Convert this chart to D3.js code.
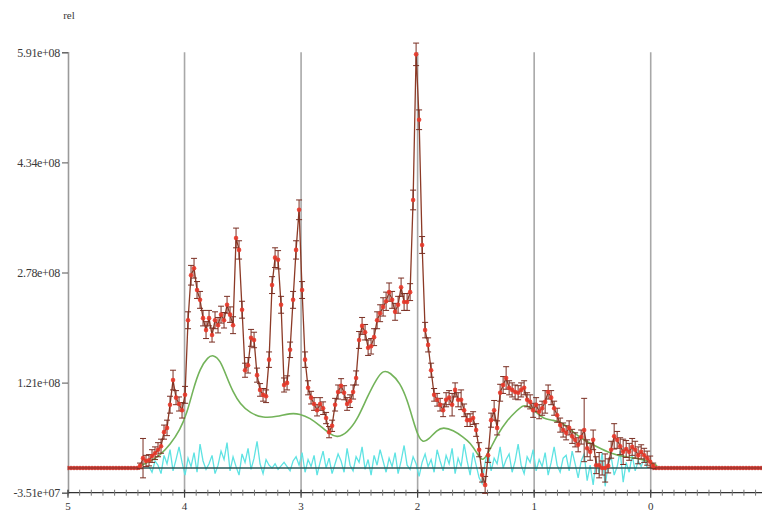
<!DOCTYPE html>
<html>
<head>
<meta charset="utf-8">
<script src="https://cdn.jsdelivr.net/npm/d3@7"></script>
<style>
  html, body { margin: 0; padding: 0; background: #fff; }
  svg { display: block; }
  text { font-family: "Liberation Serif", "DejaVu Serif", serif; }
</style>
</head>
<body>
<svg id="chart" width="762" height="515"></svg>
<script>
// ---------- DATA ----------
const UNIT = 1e6; // values below are in millions
const yTickValues = [-35.1, 121.4, 277.9, 434.4, 590.9];
const yTickLabels = ["-3.51e+07", "1.21e+08", "2.78e+08", "4.34e+08", "5.91e+08"];
const xMajorTicks = [5, 4, 3, 2, 1, 0, -1];
const xTickLabels = ["5", "4", "3", "2", "1", "0", "-1"];
const gridLines = [4, 3, 2, 1, 0];
const yAxisLabel = "rel";

// measured intensities (red), sampled on a regular energy grid
const dataStart = 4.382, dataStep = 0.02575;
const dataValues = [
  3, 14, 10, 11, 17, 21, 26, 31, 51, 57,
  90, 125, 100, 91, 82, 104, 210, 274, 284, 253,
  239, 213, 196, 213, 189, 210, 203, 218, 210, 232,
  218, 203, 327, 310, 225, 139, 146, 185, 182, 132,
  111, 104, 102, 154, 260, 299, 296, 232, 118, 121,
  168, 239, 310, 367, 253, 154, 114, 100, 91, 82,
  91, 85, 71, 51, 60, 90, 108, 117, 107, 91,
  95, 108, 128, 182, 202, 193, 171, 173, 186, 210,
  220, 229, 237, 250, 239, 222, 232, 257, 236, 236,
  250, 381, 588, 495, 317, 196, 175, 139, 104, 97,
  90, 82, 97, 100, 90, 111, 97, 97, 82, 68,
  68, 71, 54, 26, -10, -24, 18, 68, 82, 57,
  107, 118, 128, 114, 111, 108, 107, 111, 114, 97,
  94, 82, 90, 80, 85, 94, 108, 100, 85, 75,
  61, 54, 50, 57, 45, 40, 33, 44, 54, 28,
  23, 40, 4, 4, 0, 0, 3, 26, 45, 40,
  31, 23, 27, 23, 30, 26, 18, 23, 18, 14,
  9, 3
];
const dataErrors = [
  4, 28, 8, 8, 9, 9, 10, 10, 10, 11,
  12, 14, 10, 10, 11, 12, 12, 14, 14, 12,
  12, 11, 12, 11, 10, 12, 11, 12, 11, 12,
  11, 12, 14, 13, 12, 10, 11, 12, 11, 10,
  9, 9, 9, 11, 12, 14, 13, 12, 10, 10,
  11, 12, 13, 14, 12, 11, 10, 9, 9, 8,
  9, 9, 8, 8, 8, 9, 10, 10, 10, 9,
  9, 10, 10, 12, 12, 11, 11, 11, 12, 12,
  12, 13, 13, 13, 12, 12, 12, 13, 12, 12,
  12, 14, 16, 14, 12, 11, 10, 10, 9, 9,
  9, 9, 10, 10, 16, 10, 10, 14, 9, 9,
  9, 9, 9, 10, 10, 12, 10, 10, 14, 10,
  12, 12, 16, 10, 10, 10, 10, 10, 10, 10,
  10, 10, 10, 10, 10, 16, 10, 10, 10, 10,
  10, 10, 10, 10, 10, 10, 10, 10, 45, 12,
  12, 14, 12, 18, 10, 20, 10, 12, 18, 12,
  12, 18, 12, 12, 12, 12, 12, 10, 10, 10,
  8, 4
];

// flat (zero) parts of the measured spectrum outside the peak region
const flatLeft = [5, 4.382];
const flatRight = [-0.02, -0.955];

// fitted curve (green)
const fitX = [4.382, 4.296, 4.210, 4.124, 4.039, 3.979, 3.927, 3.867, 3.798, 3.755,
  3.695, 3.635, 3.584, 3.524, 3.438, 3.326, 3.206, 3.094, 3.009, 2.923,
  2.837, 2.751, 2.691, 2.605, 2.519, 2.433, 2.348, 2.296, 2.236, 2.150,
  2.090, 2.039, 1.996, 1.953, 1.910, 1.833, 1.781, 1.695, 1.609, 1.549,
  1.489, 1.446, 1.403, 1.318, 1.232, 1.146, 1.094, 1.034, 0.974, 0.923,
  0.837, 0.751, 0.665, 0.579, 0.459, 0.348, 0.236, 0.116, 0.004, -0.056];
const fitY = [3, 9, 18, 33, 54, 78, 111, 142, 158, 161,
  154, 128, 108, 91, 78, 71, 73, 78, 77, 71,
  60, 48, 43, 50, 68, 101, 128, 139, 136, 121,
  97, 68, 45, 36, 40, 54, 58, 54, 44, 36,
  21, 9, 18, 47, 68, 82, 90, 87, 78, 70,
  68, 64, 51, 40, 30, 21, 16, 14, 9, 3];

// residuals (cyan), on the data grid starting at the 4th sample
const residualOffset = 3;
const residuals = [
  2, -6, 10, 4, -8, 18, 6, 26, -4, 12,
  30, 8, -10, 14, 2, 22, -6, 34, 10, -2,
  6, 18, -8, 4, 24, 12, 36, -4, 16, 2,
  -10, 20, 8, 28, -2, 14, 38, 6, -8, 12,
  4, 0, 6, -2, 3, 8, 2, -4, 10, 16,
  4, 22, -6, 12, 2, 18, -10, 8, 24, 0,
  14, -8, 6, 20, 10, -6, 28, 4, -4, 16,
  8, 30, -2, 12, -10, 18, 4, 26, 10, -6,
  14, 2, 22, -8, 10, 32, 4, -2, 16, 6,
  -12, 8, 20, 2, 12, -6, 26, 10, -4, 18,
  6, 28, -8, 14, 2, 34, 10, -10, 22, 4,
  -14, -22, 8, 24, -4, 14, 6, 30, 0, 12,
  20, -6, 10, 34, 4, -8, 16, 8, 26, -4,
  12, 2, 22, -10, 8, 30, 4, -6, 14, 18,
  -4, 24, 6, -14, 10, 20, -18, 4, -24, 12,
  -8, 22, -26, 6, 16, -10, 2, 24, -20, 8,
  -6, 18, -4, 10, 2, 14, 0
];

// ---------- CHART ----------
(function () {
const svg = d3.select("#chart");
const mL = 68, mR = 762, mT = 52.3, mB = 492.7;

const x = d3.scaleLinear().domain([5, -0.955]).range([mL, mR]);
const y = d3.scaleLinear().domain([-35.1 * UNIT, 590.9 * UNIT]).range([mB, mT]);

const points = dataValues.map((v, i) => ({
  x: dataStart - i * dataStep, y: v * UNIT, e: dataErrors[i] * UNIT
}));
const fit = fitX.map((v, i) => ({ x: v, y: fitY[i] * UNIT }));
const res = residuals.map((v, i) => ({ x: dataStart - (i + residualOffset) * dataStep, y: v * UNIT }));

// vertical grid lines
svg.append("g").selectAll("line").data(gridLines).join("line")
  .attr("x1", d => x(d)).attr("x2", d => x(d))
  .attr("y1", mT).attr("y2", mB)
  .attr("stroke", "#a8a8a8").attr("stroke-width", 1.6);

// y axis
const yAxis = d3.axisLeft(y).tickValues(yTickValues.map(v => v * UNIT))
  .tickFormat((d, i) => yTickLabels[i]).tickSize(6).tickPadding(2);
const gy = svg.append("g").attr("transform", `translate(${mL},0)`).call(yAxis);
gy.select(".domain").attr("stroke", "#9a9a9a").attr("stroke-width", 1.6);
gy.selectAll(".tick line").attr("stroke", "#555");
gy.selectAll("text").attr("font-size", 12).attr("fill", "#3a3a3a")
  .attr("font-family", "Liberation Serif, serif").attr("letter-spacing", "-0.3");

// x axis: line, minor ticks (every 0.1), major ticks and labels
const gx = svg.append("g").attr("transform", `translate(0,${mB})`);
gx.append("line").attr("x1", mL).attr("x2", mR).attr("y1", 0).attr("y2", 0)
  .attr("stroke", "#333").attr("stroke-width", 1.2);
const minor = d3.range(50, -10, -1).map(v => v / 10);
gx.append("g").selectAll("line").data(minor).join("line")
  .attr("x1", d => x(d)).attr("x2", d => x(d)).attr("y1", -3).attr("y2", 3)
  .attr("stroke", "#777").attr("stroke-width", 1);
gx.append("g").selectAll("line").data(xMajorTicks).join("line")
  .attr("x1", d => x(d)).attr("x2", d => x(d)).attr("y1", -3).attr("y2", 5)
  .attr("stroke", "#444").attr("stroke-width", 1.2);
gx.append("g").selectAll("text").data(xMajorTicks).join("text")
  .attr("x", d => x(d)).attr("y", 17).attr("text-anchor", "middle")
  .attr("font-size", 11).attr("fill", "#333")
  .attr("font-family", "Liberation Serif, serif")
  .text((d, i) => xTickLabels[i]);

svg.append("text").attr("x", mL + 1).attr("y", 19).attr("text-anchor", "middle")
  .attr("font-size", 11).attr("fill", "#3a3a3a").text(yAxisLabel);

// residuals (cyan)
const line = d3.line().x(d => x(d.x)).y(d => y(d.y));
svg.append("path").datum(res).attr("d", line)
  .attr("fill", "none").attr("stroke", "#5fe3e3").attr("stroke-width", 1.3);

// zero line
svg.append("line").attr("x1", mL).attr("x2", mR).attr("y1", y(0)).attr("y2", y(0))
  .attr("stroke", "#2c5656").attr("stroke-width", 1.6);

// fit (green)
svg.append("path").datum(fit).attr("d", d3.line().curve(d3.curveBasis).x(d => x(d.x)).y(d => y(d.y)))
  .attr("fill", "none").attr("stroke", "#73b35a").attr("stroke-width", 1.6);

// flat zero regions of the data
const flatPts = [];
[flatLeft, flatRight].forEach(([a, b]) => {
  for (let v = a; v >= b; v -= dataStep) flatPts.push({ x: v, y: 0 });
});
[flatLeft, flatRight].forEach(([a, b]) => {
  svg.append("line").attr("x1", x(a)).attr("x2", x(b)).attr("y1", y(0)).attr("y2", y(0))
    .attr("stroke", "#e0453a").attr("stroke-width", 4).attr("opacity", 0.85);
  svg.append("line").attr("x1", x(a)).attr("x2", x(b)).attr("y1", y(0)).attr("y2", y(0))
    .attr("stroke", "#8a2a20").attr("stroke-width", 1.2);
});
svg.append("g").selectAll("path").data(flatPts).join("path")
  .attr("d", d => `M${x(d.x)},${y(d.y) - 2.2}V${y(d.y) + 2.2}`)
  .attr("stroke", "#b0302a").attr("stroke-width", 1);

// data line
svg.append("path").datum(points).attr("d", line)
  .attr("fill", "none").attr("stroke", "#8c3a26").attr("stroke-width", 1.3);

// error bars
const eb = svg.append("g").attr("stroke", "#7a2e22").attr("stroke-width", 1);
eb.selectAll("path").data(points).join("path")
  .attr("d", d => {
    const cx = x(d.x), y1 = y(d.y + d.e), y2 = y(d.y - d.e);
    return `M${cx},${y1}V${y2}M${cx - 3},${y1}H${cx + 3}M${cx - 3},${y2}H${cx + 3}`;
  });

// markers
svg.append("g").selectAll("circle").data(points).join("circle")
  .attr("cx", d => x(d.x)).attr("cy", d => y(d.y)).attr("r", 2.3)
  .attr("fill", "#e8382a").attr("opacity", 0.9);
})();
</script>
</body>
</html>
